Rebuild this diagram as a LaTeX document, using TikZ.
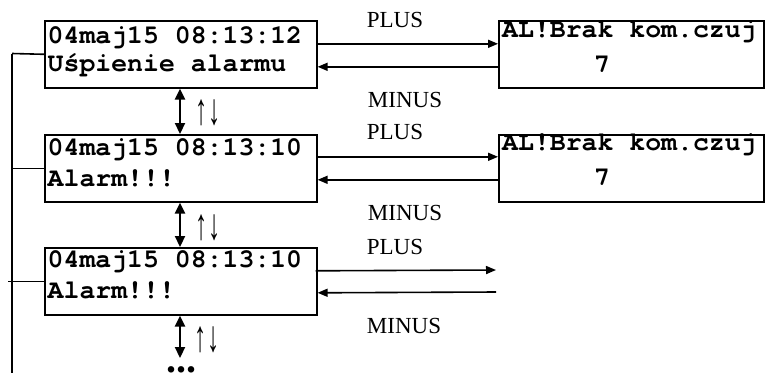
\documentclass[tikz,border=0pt]{standalone}
\usepackage{fontspec}
\setmainfont{Liberation Serif}
\newfontfamily\monofam{TeX Gyre Cursor}
\usetikzlibrary{arrows.meta,calc}
\tikzset{
  lcd/.style={draw, line width=1.6pt, inner sep=0pt, anchor=north west},
  mono/.style={font=\monofam\bfseries\fontsize{26.5}{27}\selectfont, anchor=base west, inner sep=0pt},
  lab/.style={font=\fontsize{23}{24}\selectfont, anchor=base, inner sep=0pt},
  updn/.style={font=\fontsize{44}{44}\selectfont, anchor=center, inner sep=0pt},
  arr/.style={-{Triangle[length=10pt,width=8pt]}, line width=1.6pt},
  dbl/.style={{Triangle[length=11pt,width=10pt]}-{Triangle[length=11pt,width=10pt]}, line width=2.2pt},
  wire/.style={line width=1.6pt}
}
\begin{document}
\begin{tikzpicture}[x=1pt,y=-1pt]
\useasboundingbox (0,0) rectangle (765,373);
% left boxes
\node[lcd, minimum width=272pt, minimum height=67pt] (b1) at (44,20) {};
\node[lcd, minimum width=272pt, minimum height=67pt] (b3) at (44,134) {};
\node[lcd, minimum width=272pt, minimum height=67pt] (b5) at (44,247) {};
% right boxes
\node[lcd, minimum width=265pt, minimum height=67pt] (b2) at (498,20) {};
\node[lcd, minimum width=265pt, minimum height=67pt] (b4) at (498,134) {};
% texts
\node[mono] (t1a) at (47.5,43) {04maj15 08:13:12};
\node[mono] (t1b) at (47.5,71) {Uśpienie alarmu};
\node[mono] (t3a) at (47.5,155) {04maj15 08:13:10};
\node[mono] (t3b) at (47.5,186) {Alarm!!!};
\node[mono] (t5a) at (47.5,267) {04maj15 08:13:10};
\node[mono] (t5b) at (47.5,298) {Alarm!!!};
\node[mono] (t2a) at (502,37) {AL!Brak kom.czuj};
\node[mono, anchor=base] (t2b) at (602,72) {7};
\node[mono] (t4a) at (502,150) {AL!Brak kom.czuj};
\node[mono, anchor=base] (t4b) at (602,185) {7};
% PLUS / MINUS labels
\node[lab] (p1) at (395,27) {PLUS};
\node[lab] (m1) at (405,107) {MINUS};
\node[lab] (p2) at (395,139.5) {PLUS};
\node[lab] (m2) at (405,220) {MINUS};
\node[lab] (p3) at (395,254) {PLUS};
\node[lab] (m3) at (404,333) {MINUS};
% horizontal arrows
\draw[arr] ($(b1.east)+(0,-10.5)$) -- ($(b2.west)+(0,-10.5)$);
\draw[arr] ($(b2.west)+(0,12.5)$) -- ($(b1.east)+(0,12.5)$);
\draw[arr] ($(b3.east)+(0,-11.5)$) -- ($(b4.west)+(0,-11.5)$);
\draw[arr] ($(b4.west)+(0,11.5)$) -- ($(b3.east)+(0,11.5)$);
\coordinate (e5p) at (496,270);
\coordinate (e5m) at (496,292);
\draw[arr] ($(b5.east)+(-2,-10.5)$) -- (e5p);
\draw[arr] (e5m) -- ($(b5.east)+(0,11.5)$);
% vertical double arrows
\coordinate (dend) at (180,358);
\draw[dbl] (b1.south -| 180,0) -- (b3.north -| 180,0);
\draw[dbl] (b3.south -| 180,0) -- (b5.north -| 180,0);
\draw[dbl] (b5.south -| 180,0) -- (dend);
\node[updn] (u1) at (208,112.5) {\scalebox{0.55}[1]{↑↓}};
\node[updn] (u2) at (208,228) {\scalebox{0.55}[1]{↑↓}};
\node[updn] (u3) at (207,339.5) {\scalebox{0.55}[1]{↑↓}};
\node[font=\bfseries\fontsize{40}{40}\selectfont, anchor=base, inner sep=0pt, text height=7pt, text depth=0pt] (dots) at (181,372) {...};
% left bus
\coordinate (bt) at (12,53.5);
\coordinate (bb) at (12,373);
\coordinate (bl5) at (8,0);
\draw[wire] (bt) -- (bb);
\draw[wire] (bt) -- (b1.west);
\draw[wire] (b3.west -| bt) -- (b3.west);
\draw[wire] (b5.west -| bl5) -- (b5.west);
\end{tikzpicture}
\end{document}
